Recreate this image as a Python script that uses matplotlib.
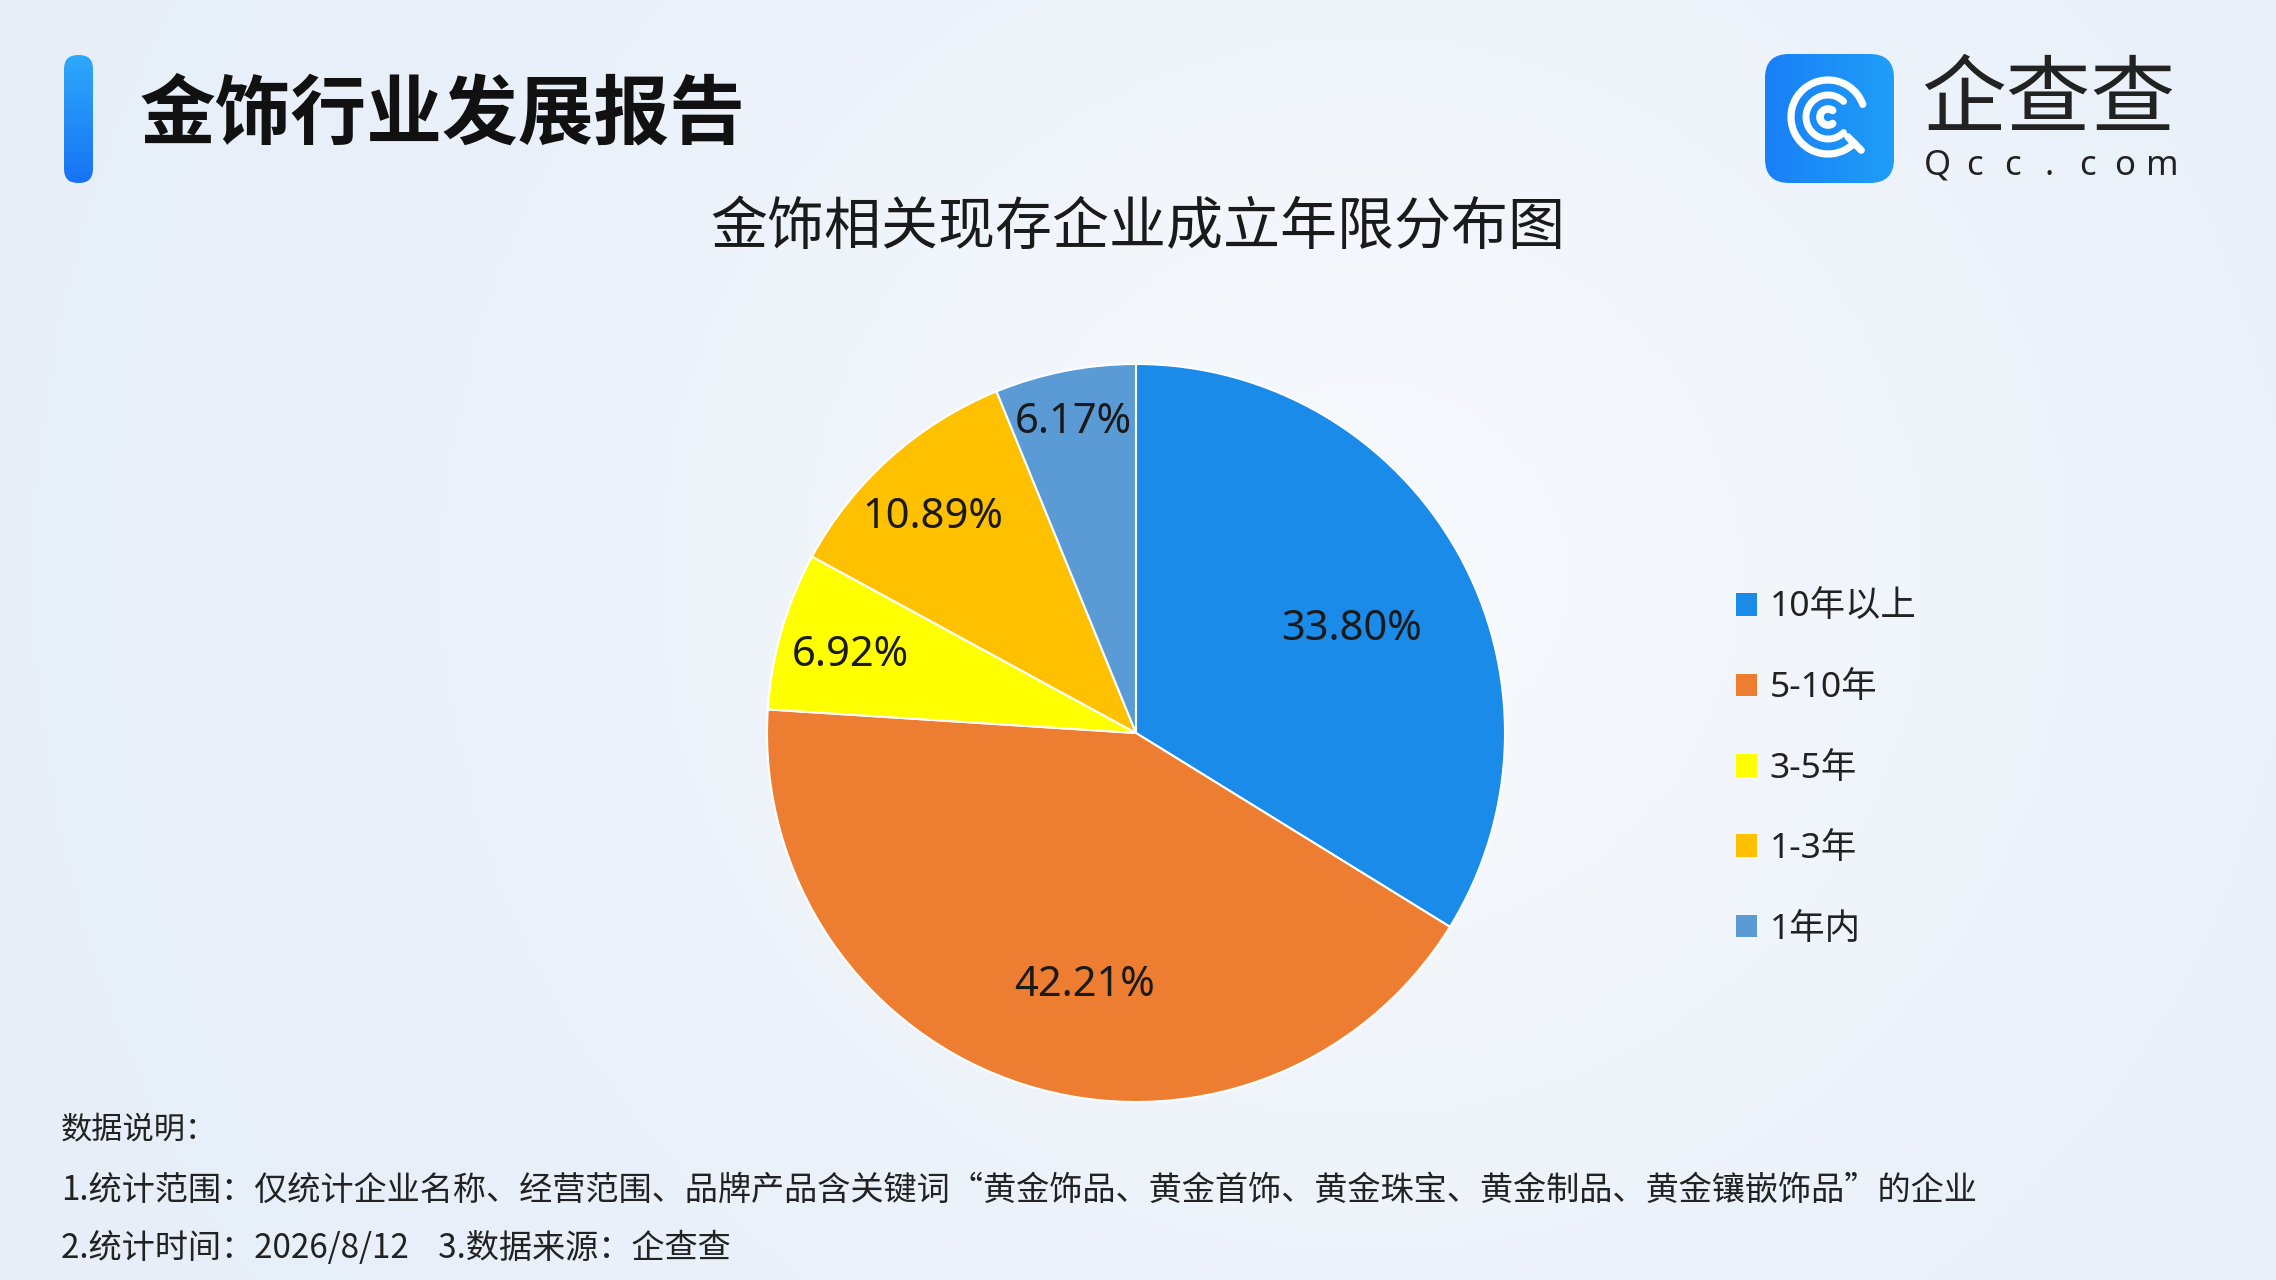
import numpy as np
import matplotlib.pyplot as plt
from matplotlib.patches import FancyBboxPatch, Arc, Rectangle

plt.rcParams['font.family'] = ['Noto Sans CJK SC', 'DejaVu Sans']

# 数据
categories = ['10年以上', '5-10年', '3-5年', '1-3年', '1年内']
shares = [33.80, 42.21, 6.92, 10.89, 6.17]
colors = ['#1a8be8', '#ed7d31', '#ffff00', '#ffc000', '#5b9bd5']
# 百分比标签：离圆心的距离、相对扇区中线的角度偏移(度)
label_r = [0.65, 0.69, 0.805, 0.808, 0.867]
label_dang = [-2.9, 6.1, 0.5, 1.2, 0.2]

W, H = 2276, 1280
fig = plt.figure(figsize=(W / 100, H / 100), dpi=100)

# 背景渐变
bg = fig.add_axes([0, 0, 1, 1], zorder=-10)
yy, xx = np.mgrid[0:1:200j, 0:1:360j]
t = np.exp(-((xx - 0.6) ** 2 / 0.12 + (yy - 0.45) ** 2 / 0.35))
c_edge = np.array([0.905, 0.935, 0.975])
c_mid = np.array([0.965, 0.975, 0.992])
img = c_edge[None, None, :] * (1 - t[..., None]) + c_mid[None, None, :] * t[..., None]
bg.imshow(img, aspect='auto', extent=[0, 1, 0, 1])
bg.axis('off')

# 左上角蓝色竖条
bar = fig.add_axes([64 / W, 1 - 183 / H, 29 / W, 128 / H])
bar.set_xlim(0, 29)
bar.set_ylim(0, 128)
grad = np.linspace(0, 1, 100)[:, None]
c_top = np.array([0.18, 0.66, 0.98])
c_bot = np.array([0.09, 0.45, 0.96])
gimg = c_top * (1 - grad[..., None]) + c_bot * grad[..., None]
im = bar.imshow(gimg, aspect='auto', extent=[0, 29, 0, 128])
clip = FancyBboxPatch((0, 0), 29, 128, boxstyle='round,pad=0,rounding_size=14',
                      transform=bar.transData, facecolor='none', edgecolor='none')
bar.add_patch(clip)
im.set_clip_path(clip)
bar.axis('off')

fig.text(139 / W, 1 - 115 / H, '金饰行业发展报告', fontsize=54.5, fontweight='bold',
         color='#111111', ha='left', va='center')

# 企查查 logo
logo = fig.add_axes([1765 / W, 1 - 183 / H, 129 / W, 129 / H])
logo.set_xlim(0, 129)
logo.set_ylim(0, 129)
lg = np.linspace(0, 1, 100)[None, :]
c_l = np.array([0.10, 0.50, 0.97])
c_r = np.array([0.12, 0.62, 0.97])
limg = c_l * (1 - lg[..., None]) + c_r * lg[..., None]
lim = logo.imshow(np.repeat(limg, 50, axis=0), aspect='auto', extent=[0, 129, 0, 129])
lclip = FancyBboxPatch((0, 0), 129, 129, boxstyle='round,pad=0,rounding_size=24',
                       transform=logo.transData, facecolor='none', edgecolor='none')
logo.add_patch(lclip)
lim.set_clip_path(lclip)
cx, cy = 63, 66
logo.add_patch(Arc((cx, cy), 74, 74, theta1=20, theta2=315, color='white', lw=5.2,
                   capstyle='round'))
logo.add_patch(Arc((cx, cy), 44, 44, theta1=45, theta2=315, color='white', lw=5.0,
                   capstyle='round'))
logo.add_patch(Arc((cx, cy), 16, 16, theta1=55, theta2=305, color='white', lw=5.5,
                   capstyle='round'))
a = np.deg2rad(-45)
logo.plot([cx + 28 * np.cos(a), cx + 47 * np.cos(a)], [cy + 28 * np.sin(a), cy + 47 * np.sin(a)],
          color='white', lw=5.2, solid_capstyle='round')
logo.axis('off')

fig.text(2048 / W, 1 - 102 / H, '企查查', fontsize=61, color='#222222', ha='center',
         va='center')
for i, ch in enumerate('Qcc.com'):
    fig.text((1937 + i * 37.5) / W, 1 - 166 / H, ch, fontsize=25, color='#222222',
             ha='center', va='center', family='Noto Sans', fontweight='bold')

# 图表标题
fig.text(0.5, 1 - 228 / H, '金饰相关现存企业成立年限分布图', fontsize=41, color='#1a1a1a',
         ha='center', va='center')

# 饼图
r = 369
ax = fig.add_axes([(1136 - r) / W, 1 - (733 + r) / H, 2 * r / W, 2 * r / H])
wedges, texts = ax.pie(shares, colors=colors, startangle=90, counterclock=False, radius=1,
                       wedgeprops=dict(edgecolor='white', linewidth=1.5))
for w, v, rr, da in zip(wedges, shares, label_r, label_dang):
    ang = np.deg2rad((w.theta1 + w.theta2) / 2 + da)
    ax.text(rr * np.cos(ang), rr * np.sin(ang) - 0.006, f'{v:.2f}%', ha='center',
            va='center', fontsize=30, color='#1a1a1a', family=['Noto Sans', 'DejaVu Sans'])
ax.set_xlim(-1, 1)
ax.set_ylim(-1, 1)
ax.set_aspect('equal')
ax.axis('off')

# 图例
handles = [Rectangle((0, 0), 1, 1, facecolor=c, edgecolor='none') for c in colors]
leg = fig.legend(handles, categories, loc='upper left', bbox_to_anchor=(1736 / W, 1 - 591 / H),
                 frameon=False, fontsize=25.5, handlelength=0.6, handleheight=0.6,
                 handletextpad=0.35, labelspacing=1.31, borderpad=0, borderaxespad=0,
                 labelcolor='#222222')
for txt in leg.get_texts():
    txt.set_fontfamily(['Noto Sans', 'Noto Sans CJK SC'])

# 数据说明
fig.text(61 / W, 1 - 1130 / H, '数据说明：', fontsize=22.5, color='#222222', va='center')
fig.text(61 / W, 1 - 1190 / H,
         '1.统计范围：仅统计企业名称、经营范围、品牌产品含关键词“黄金饰品、黄金首饰、黄金珠宝、黄金制品、黄金镶嵌饰品”的企业',
         fontsize=23.9, color='#222222', va='center')
fig.text(61 / W, 1 - 1248 / H, '2.统计时间：2026/8/12    3.数据来源：企查查', fontsize=23.9,
         color='#222222', va='center')

fig.savefig('out.png', dpi=100)
